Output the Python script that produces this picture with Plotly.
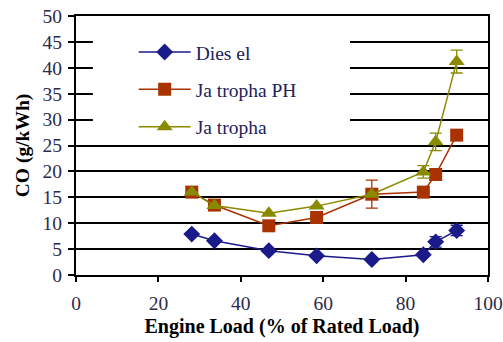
import plotly.graph_objects as go

load = [28.1, 33.6, 46.8, 58.4, 71.8, 84.3, 87.3, 92.4]
diesel = [7.9, 6.6, 4.7, 3.7, 3.0, 3.9, 6.4, 8.6]
diesel_err = [0, 0, 0, 0, 0, 0.3, 1.0, 1.0]
jat_ph = [16.0, 13.5, 9.5, 11.1, 15.6, 16.0, 19.4, 27.0]
jat_ph_err = [0, 0, 0, 0, 2.7, 0, 0, 0]
jat = [16.0, 13.4, 11.9, 13.3, 15.6, 19.9, 25.7, 41.2]
jat_err = [0, 0, 0, 0, 0, 1.2, 1.7, 2.2]

names = ["Dies el", "Ja tropha PH", "Ja tropha"]
colors = ["#1a1a8a", "#a83300", "#8a8a00"]
symbols = ["diamond", "square", "triangle-up"]
sizes = [13, 13, 14]
series = [diesel, jat_ph, jat]
errs = [diesel_err, jat_ph_err, jat_err]

fig = go.Figure()
for i, (n, c, s, sz, y, e) in enumerate(zip(names, colors, symbols, sizes, series, errs)):
    fig.add_trace(go.Scatter(
        x=load, y=y, name=n, mode="lines+markers", legendgroup="g%d" % i,
        line=dict(color=c, width=1.5),
        marker=dict(symbol=s, size=sz, color=c),
        error_y=dict(type="data", array=e, color=c, thickness=1.3, width=6, visible=True),
    ))

font = "Liberation Serif"
fig.update_layout(
    template="none",
    width=503, height=342,
    margin=dict(l=76, r=15, t=16, b=67, autoexpand=False),
    paper_bgcolor="white", plot_bgcolor="white",
    showlegend=True,
    legend=dict(x=0.14, y=0.935, xanchor="left", yanchor="top", traceorder="grouped",
                bgcolor="rgba(0,0,0,0)", font=dict(family=font, size=19.5, color="#22225a"),
                tracegroupgap=9, itemwidth=52),
    shapes=[dict(type="rect", xref="x", yref="y", x0=4.1, x1=66.5, y0=26.5, y1=49.6,
                 fillcolor="white", line=dict(width=0), layer="between")],
)
fig.update_xaxes(
    range=[0, 100], tickvals=[0, 20, 40, 60, 80, 100], ticks="outside", ticklen=5,
    tickwidth=2, tickcolor="black", showline=True, linecolor="black", linewidth=2,
    mirror=True, showgrid=False, zeroline=False, ticklabelstandoff=5,
    tickfont=dict(family=font, size=19.5, color="#2a2a4a"),
    title=dict(text="<b>Engine Load (% of Rated Load)</b>", font=dict(family=font, size=20, color="black"), standoff=6),
)
fig.update_yaxes(
    range=[0, 50], dtick=5, ticks="outside", ticklen=6, tickwidth=2, tickcolor="black",
    showline=True, linecolor="black", linewidth=2, mirror=True,
    showgrid=True, gridcolor="black", gridwidth=1.5, zeroline=False, ticklabelstandoff=2,
    tickfont=dict(family=font, size=19.5, color="#2a2a4a"),
    title=dict(text="<b>CO (g/kWh)</b>", font=dict(family=font, size=19.5, color="black"), standoff=8),
)
fig.write_html("out.html")
